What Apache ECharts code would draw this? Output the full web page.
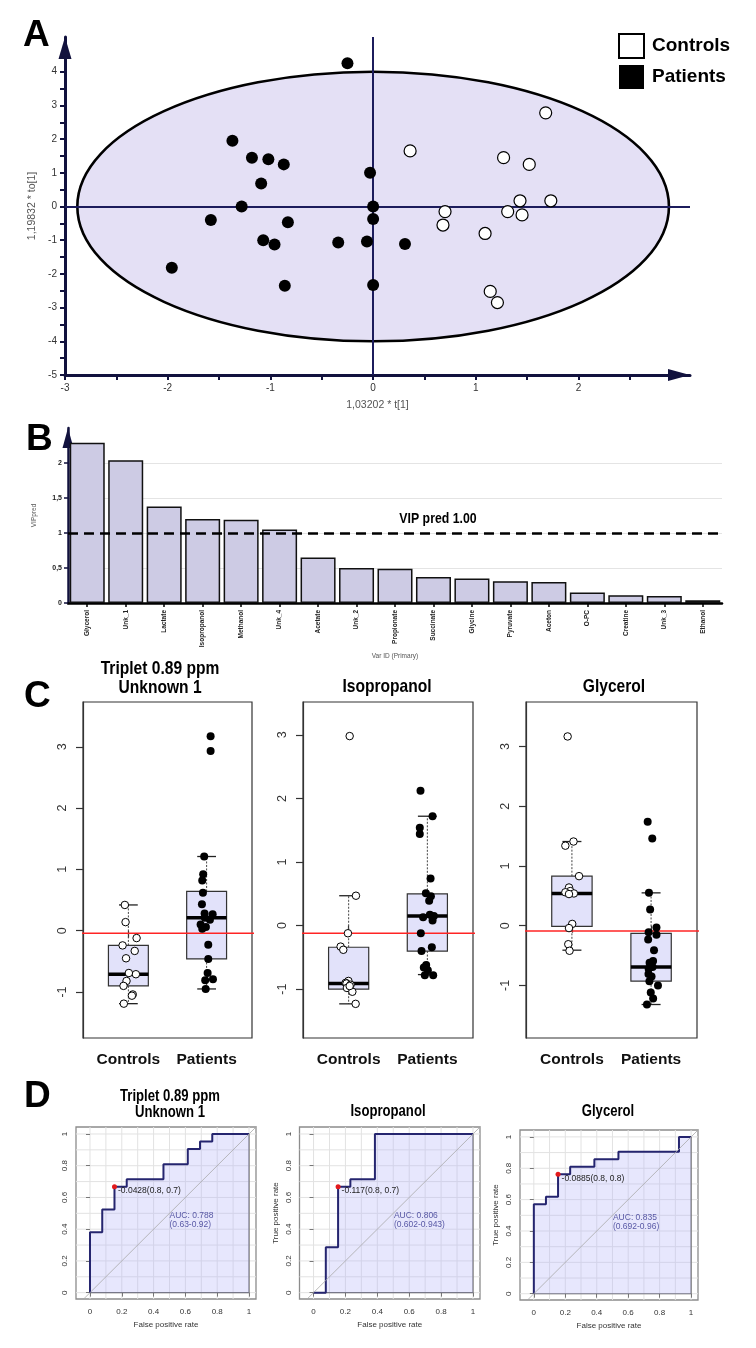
<!DOCTYPE html>
<html><head><meta charset="utf-8">
<script src="https://cdn.jsdelivr.net/npm/echarts@6.0.0/dist/echarts.min.js"></script>
<style>html,body{margin:0;padding:0;background:#fff;}#chart{width:756px;height:1348px;}</style>
</head><body><div id="chart"></div>
<script>
const NARROW = "'Liberation Sans Narrow','Arial Narrow','Liberation Sans',Arial,sans-serif";
const SANS = "'Liberation Sans',Arial,Helvetica,sans-serif";

// ---------- Panel A : OPLS-DA score plot ----------
const controlsT  = [1.68, 0.36, 1.27, 1.52, 1.43, 1.73, 0.70, 1.31, 1.45, 0.68, 1.09, 1.14, 1.21];
const controlsTo = [2.78, 1.65, 1.45, 1.25, 0.17, 0.17, -0.15, -0.15, -0.25, -0.55, -0.80, -2.52, -2.85];
const patientsT  = [-0.25, -1.37, -1.18, -1.02, -0.87, -1.09, -0.03, -1.28, 0.00, -1.58, -0.83, 0.00, -1.07, -0.96, -0.34, -0.06, 0.31, -1.96, -0.86, 0.00];
const patientsTo = [4.25, 1.95, 1.45, 1.40, 1.25, 0.68, 1.00, 0.00, 0.00, -0.40, -0.47, -0.37, -1.00, -1.13, -1.07, -1.04, -1.11, -1.82, -2.35, -2.33];
const ellipseCenter = [0, 0];
const ellipseRadii = [2.88, 4.0];
const scoreTicksX = [-3, -2.5, -2, -1.5, -1, -0.5, 0, 0.5, 1, 1.5, 2, 2.5];
const scoreLabelsX = [-3, -2, -1, 0, 1, 2];
const scoreTicksY = [-5, -4.5, -4, -3.5, -3, -2.5, -2, -1.5, -1, -0.5, 0, 0.5, 1, 1.5, 2, 2.5, 3, 3.5, 4, 4.5];
const scoreLabelsY = [-5, -4, -3, -2, -1, 0, 1, 2, 3, 4];

// ---------- Panel B : VIP pred ----------
const vipVars = ['Glycerol','Unk_1','Lactate','Isopropanol','Methanol','Unk_4','Acetate','Unk_2','Propionate','Succinate','Glycine','Pyruvate','Aceton','O-PC','Creatine','Unk_3','Ethanol'];
const vipValues = [2.29, 2.04, 1.38, 1.20, 1.19, 1.05, 0.65, 0.50, 0.49, 0.37, 0.35, 0.31, 0.30, 0.15, 0.11, 0.10, 0.04];
const vipThreshold = 1.0;
const vipLabels = [0, 0.5, 1, 1.5, 2];

// ---------- Panel C : box plots ----------
const groups = ['Controls', 'Patients'];
const boxTicks = [-1, 0, 1, 2, 3];
// [min, Q1, median, Q3, max] per group
const c1Stats = [[-1.19, -0.90, -0.71, -0.24, 0.42], [-0.95, -0.46, 0.21, 0.64, 1.21]];
const c2Stats = [[-1.23, -1.00, -0.91, -0.34, 0.47], [-0.77, -0.40, 0.15, 0.50, 1.72]];
const c3Stats = [[-0.41, -0.01, 0.54, 0.83, 1.41], [-1.32, -0.93, -0.69, -0.13, 0.55]];
const c1CtrlVals = [0.42, 0.14, -0.12, -0.24, -0.33, -0.45, -0.71, -0.69, -0.82, -0.90, -1.04, -1.06, -1.19];
const c1CtrlJit  = [-0.045, -0.036, 0.105, -0.074, 0.081, -0.03, 0.096, 0.006, -0.024, -0.062, 0.056, 0.045, -0.058];
const c1PatVals  = [3.17, 2.93, 1.21, 0.92, 0.82, 0.62, 0.43, 0.28, 0.27, 0.21, 0.10, 0.06, 0.03, -0.23, -0.46, -0.69, -0.79, -0.81, -0.95, 0.18];
const c1PatJit   = [0.051, 0.051, -0.031, -0.044, -0.056, -0.047, -0.06, -0.026, 0.077, -0.022, -0.077, -0.009, -0.056, 0.021, 0.021, 0.013, 0.081, -0.018, -0.012, 0.042];
const c2CtrlVals = [2.98, 0.47, -0.12, -0.33, -0.38, -0.87, -0.90, -0.91, -0.93, -0.98, -1.04, -1.23, -0.95];
const c2CtrlJit  = [0.013, 0.093, -0.009, -0.102, -0.068, -0.003, -0.038, -0.027, 0.025, -0.022, 0.047, 0.089, 0.013];
const c2PatVals  = [2.12, 1.72, 1.54, 1.44, 0.74, 0.51, 0.46, 0.39, 0.17, 0.15, 0.13, 0.08, -0.12, -0.34, -0.40, -0.62, -0.66, -0.70, -0.78, -0.78];
const c2PatJit   = [-0.087, 0.066, -0.096, -0.096, 0.041, -0.019, 0.045, 0.023, 0.032, 0.083, -0.054, 0.066, -0.083, 0.057, -0.074, -0.015, -0.045, 0.006, -0.032, 0.074];
const c3CtrlVals = [3.17, 1.41, 1.34, 0.83, 0.64, 0.58, 0.56, 0.54, 0.53, 0.03, -0.04, -0.31, -0.42];
const c3CtrlJit  = [-0.054, 0.02, -0.083, 0.09, -0.037, -0.021, -0.083, 0.025, -0.037, 0.004, -0.037, -0.046, -0.03];
const c3PatVals  = [1.74, 1.46, 0.55, 0.27, -0.03, -0.11, -0.15, -0.23, -0.41, -0.59, -0.62, -0.69, -0.72, -0.81, -0.85, -0.93, -1.00, -1.12, -1.22, -1.32];
const c3PatJit   = [-0.043, 0.015, -0.027, -0.012, 0.068, -0.031, 0.068, -0.037, 0.037, 0.025, -0.019, 0.019, -0.031, -0.033, 0.006, -0.021, 0.087, -0.004, 0.026, -0.052];
const cutoffs = [-0.04, -0.12, -0.09];
const cutSpans = [[0.06, 2.72], [0.03, 2.68], [0.06, 2.94]];

// ---------- Panel D : ROC curves ----------
const rocTicks = [0, 0.2, 0.4, 0.6, 0.8, 1];
const rocGrid = [0, 0.1, 0.2, 0.3, 0.4, 0.5, 0.6, 0.7, 0.8, 0.9, 1];
const roc1Fpr = [0, 0, 0.077, 0.077, 0.154, 0.154, 0.231, 0.231, 0.462, 0.462, 0.615, 0.615, 0.692, 0.692, 0.769, 0.769, 1];
const roc1Tpr = [0, 0.381, 0.381, 0.524, 0.524, 0.667, 0.667, 0.714, 0.714, 0.810, 0.810, 0.905, 0.905, 0.952, 0.952, 1, 1];
const roc2Fpr = [0, 0.077, 0.077, 0.154, 0.154, 0.231, 0.231, 0.385, 0.385, 1];
const roc2Tpr = [0, 0, 0.286, 0.286, 0.667, 0.667, 0.714, 0.714, 1, 1];
const roc3Fpr = [0, 0, 0.077, 0.077, 0.154, 0.154, 0.231, 0.231, 0.385, 0.385, 0.538, 0.538, 0.923, 0.923, 1];
const roc3Tpr = [0, 0.571, 0.571, 0.619, 0.619, 0.762, 0.762, 0.810, 0.810, 0.857, 0.857, 0.905, 0.905, 1, 1];
const bestPts = [[0.154, 0.667], [0.154, 0.667], [0.154, 0.762]];
const bestLabels = ['-0.0428(0.8, 0.7)', '-0.117(0.8, 0.7)', '-0.0885(0.8, 0.8)'];
const aucPos = [[0.50, 0.458], [0.504, 0.457], [0.503, 0.455]];
const aucLabels = ['AUC: 0.788\n(0.63-0.92)', 'AUC: 0.806\n(0.602-0.943)', 'AUC: 0.835\n(0.692-0.96)'];

const zip = (a, b) => a.map((v, i) => [v, b[i]]);

const grids = [], xAxes = [], yAxes = [], series = [], graphics = [];

// ===== Panel A =====
grids.push({left: 65, top: 37, width: 625, height: 338});
xAxes.push({gridIndex: 0, type: 'value', min: -3, max: 3.085,
  axisLine: {show: true, onZero: false, lineStyle: {color: '#12123e', width: 3}, symbol: ['none', 'triangle'], symbolSize: [12, 22], symbolOffset: [0, -11]},
  axisTick: {show: true, customValues: scoreTicksX, length: 5, lineStyle: {color: '#12123e', width: 2}},
  axisLabel: {customValues: scoreLabelsX, fontSize: 10, color: '#333', margin: 8, fontFamily: NARROW},
  splitLine: {show: false},
  name: '1,03202 * t[1]', nameLocation: 'middle', nameGap: 25, nameTextStyle: {fontSize: 10.5, color: '#555', fontFamily: NARROW}});
yAxes.push({gridIndex: 0, type: 'value', min: -5, max: 5.03,
  axisLine: {show: true, onZero: false, lineStyle: {color: '#12123e', width: 3}, symbol: ['none', 'triangle'], symbolSize: [13, 22], symbolOffset: [0, -11]},
  axisTick: {show: true, customValues: scoreTicksY, length: 5, lineStyle: {color: '#12123e', width: 2}},
  axisLabel: {customValues: scoreLabelsY, fontSize: 10, color: '#333', margin: 8, fontFamily: NARROW},
  splitLine: {show: false},
  name: '1,19832 * to[1]', nameLocation: 'middle', nameGap: 22, nameTextStyle: {fontSize: 10.5, color: '#555', fontFamily: NARROW}});
series.push({type: 'custom', xAxisIndex: 0, yAxisIndex: 0, z: 1, silent: true,
  data: [[ellipseCenter[0], ellipseCenter[1], ellipseRadii[0], ellipseRadii[1]]],
  renderItem: (params, api) => {
    const c = api.coord([api.value(0), api.value(1)]);
    const s = api.size([api.value(2), api.value(3)]);
    return {type: 'ellipse', shape: {cx: c[0], cy: c[1], rx: s[0], ry: s[1]}, style: {fill: '#e4e0f5', stroke: '#000', lineWidth: 2.6}};
  },
  markLine: {silent: true, symbol: 'none', label: {show: false}, lineStyle: {color: '#1c1c5c', width: 2, type: 'solid'},
    data: [{xAxis: 0}, {yAxis: 0}]}
});
series.push({type: 'scatter', name: 'Controls', xAxisIndex: 0, yAxisIndex: 0, z: 10, symbolSize: 12,
  itemStyle: {color: '#fff', borderColor: '#000', borderWidth: 1.2, opacity: 1}, data: zip(controlsT, controlsTo)});
series.push({type: 'scatter', name: 'Patients', xAxisIndex: 0, yAxisIndex: 0, z: 10, symbolSize: 12,
  itemStyle: {color: '#000', opacity: 1}, data: zip(patientsT, patientsTo)});

// ===== Panel B =====
grids.push({left: 68, top: 428, width: 654, height: 175});
xAxes.push({gridIndex: 1, type: 'category', data: vipVars,
  axisLine: {show: true, lineStyle: {color: '#000', width: 2.5}},
  axisTick: {show: true, alignWithLabel: true, length: 4, lineStyle: {color: '#000', width: 1.5}},
  axisLabel: {rotate: 90, interval: 0, fontSize: 6.5, fontWeight: 'bold', color: '#222', margin: 7, fontFamily: NARROW},
  name: 'Var ID (Primary)', nameLocation: 'middle', nameGap: 50, nameTextStyle: {fontSize: 6.5, color: '#555', fontFamily: NARROW}});
yAxes.push({gridIndex: 1, type: 'value', min: 0, max: 2.5, interval: 0.5,
  axisLine: {show: true, lineStyle: {color: '#12123e', width: 2.5}, symbol: ['none', 'triangle'], symbolSize: [11, 20], symbolOffset: [0, -10]},
  axisTick: {show: true, customValues: vipLabels, length: 4, lineStyle: {color: '#12123e', width: 1.5}},
  axisLabel: {customValues: vipLabels, fontSize: 7, fontWeight: 'bold', color: '#222', margin: 6, fontFamily: NARROW,
    formatter: v => String(v).replace('.', ',')},
  splitLine: {show: true, showMinLine: false, showMaxLine: true, lineStyle: {color: '#e4e4e4', width: 1}},
  name: 'VIPpred', nameLocation: 'middle', nameGap: 30, nameTextStyle: {fontSize: 6.5, color: '#555', fontFamily: NARROW}});
series.push({type: 'bar', xAxisIndex: 1, yAxisIndex: 1, data: vipValues, barCategoryGap: '9%',
  itemStyle: {color: '#cdcbe4', borderColor: '#111', borderWidth: 1.5},
  markLine: {silent: true, symbol: 'none', label: {show: false},
    lineStyle: {color: '#000', width: 2.6, type: [10, 6]}, data: [{yAxis: vipThreshold}]}});

// ===== Panel C =====
const cPanels = [
  {grid: {left: 83, top: 702, width: 169, height: 336}, yMin: -1.75, yMax: 3.73, stats: c1Stats, cv: c1CtrlVals, cj: c1CtrlJit, pv: c1PatVals, pj: c1PatJit},
  {grid: {left: 303, top: 702, width: 170, height: 336}, yMin: -1.767, yMax: 3.516, stats: c2Stats, cv: c2CtrlVals, cj: c2CtrlJit, pv: c2PatVals, pj: c2PatJit},
  {grid: {left: 526, top: 702, width: 171, height: 336}, yMin: -1.881, yMax: 3.747, stats: c3Stats, cv: c3CtrlVals, cj: c3CtrlJit, pv: c3PatVals, pj: c3PatJit}
];
const BOX_HALF = 0.255, CAP_HALF = 0.12;
cPanels.forEach((p, k) => {
  const gi = grids.length;
  grids.push(Object.assign({show: true, borderColor: '#333', borderWidth: 1.2, backgroundColor: 'transparent'}, p.grid));
  xAxes.push({gridIndex: gi, type: 'value', min: 0.42, max: 2.58,
    axisLine: {show: false},
    axisTick: {show: true, customValues: [1, 2], length: 7, lineStyle: {color: '#333', width: 1.2}},
    axisLabel: {customValues: [1, 2], formatter: v => groups[Math.round(v) - 1], fontSize: 15.5, fontWeight: 'bold', color: '#111', fontFamily: NARROW, margin: 14},
    splitLine: {show: false}});
  yAxes.push({gridIndex: gi, type: 'value', min: p.yMin, max: p.yMax,
    axisLine: {show: true, onZero: false, lineStyle: {color: '#333', width: 1.2}},
    axisTick: {show: true, customValues: boxTicks, length: 7, lineStyle: {color: '#333', width: 1.2}},
    axisLabel: {customValues: boxTicks, rotate: 90, fontSize: 12.5, color: '#333', fontFamily: SANS, margin: 14},
    splitLine: {show: false}});
  series.push({type: 'custom', xAxisIndex: gi, yAxisIndex: gi, z: 3, silent: true,
    data: p.stats.map((s, i) => [i + 1].concat(s)),
    encode: {x: 0, y: [1, 2, 3, 4, 5]},
    renderItem: (params, api) => {
      const x = api.value(0);
      const mn = api.value(1), q1 = api.value(2), md = api.value(3), q3 = api.value(4), mx = api.value(5);
      const c = v => api.coord(v);
      const tl = c([x - BOX_HALF, q3]), br = c([x + BOX_HALF, q1]);
      const cx = c([x, 0])[0];
      const capL = c([x - CAP_HALF, 0])[0], capR = c([x + CAP_HALF, 0])[0];
      const yMx = c([x, mx])[1], yMn = c([x, mn])[1], yMd = c([x, md])[1];
      const wStyle = {stroke: '#444', lineWidth: 1, lineDash: [2, 1.5]};
      const capStyle = {stroke: '#222', lineWidth: 1.3};
      return {type: 'group', children: [
        {type: 'line', shape: {x1: cx, y1: tl[1], x2: cx, y2: yMx}, style: wStyle},
        {type: 'line', shape: {x1: cx, y1: br[1], x2: cx, y2: yMn}, style: wStyle},
        {type: 'line', shape: {x1: capL, y1: yMx, x2: capR, y2: yMx}, style: capStyle},
        {type: 'line', shape: {x1: capL, y1: yMn, x2: capR, y2: yMn}, style: capStyle},
        {type: 'rect', shape: {x: tl[0], y: tl[1], width: br[0] - tl[0], height: br[1] - tl[1]}, style: {fill: '#e2e2fa', stroke: '#333', lineWidth: 1.2}},
        {type: 'line', shape: {x1: tl[0], y1: yMd, x2: br[0], y2: yMd}, style: {stroke: '#000', lineWidth: 3.5}}
      ]};
    }});
  series.push({type: 'line', xAxisIndex: gi, yAxisIndex: gi, z: 6, clip: false, symbol: 'none', silent: true,
    lineStyle: {color: '#ff2424', width: 1.5},
    data: [[cutSpans[k][0], cutoffs[k]], [cutSpans[k][1], cutoffs[k]]]});
  series.push({type: 'scatter', name: 'C' + (k + 1) + ' Controls', xAxisIndex: gi, yAxisIndex: gi, z: 10, symbolSize: 7.5,
    itemStyle: {color: '#fff', borderColor: '#000', borderWidth: 1, opacity: 1},
    data: p.cv.map((v, i) => [1 + p.cj[i], v])});
  series.push({type: 'scatter', name: 'C' + (k + 1) + ' Patients', xAxisIndex: gi, yAxisIndex: gi, z: 10, symbolSize: 8,
    itemStyle: {color: '#000', opacity: 1},
    data: p.pv.map((v, i) => [2 + p.pj[i], v])});
});

// ===== Panel D =====
const dPanels = [
  {grid: {left: 76, top: 1127, width: 180, height: 172}, fpr: roc1Fpr, tpr: roc1Tpr, yName: ''},
  {grid: {left: 299.5, top: 1127, width: 180.5, height: 172}, fpr: roc2Fpr, tpr: roc2Tpr, yName: 'True positive rate'},
  {grid: {left: 520, top: 1130, width: 178, height: 170}, fpr: roc3Fpr, tpr: roc3Tpr, yName: 'True positive rate'}
];
dPanels.forEach((p, k) => {
  const gi = grids.length;
  grids.push(Object.assign({show: true, borderColor: '#8c8c8c', borderWidth: 1.3, backgroundColor: 'transparent'}, p.grid));
  xAxes.push({gridIndex: gi, type: 'value', min: -0.088, max: 1.044,
    axisLine: {show: false},
    axisTick: {show: true, customValues: rocTicks, length: 4, lineStyle: {color: '#777'}},
    axisLabel: {customValues: rocTicks, fontSize: 8, color: '#333', fontFamily: SANS, margin: 9},
    splitLine: {show: false},
    name: 'False positive rate', nameLocation: 'middle', nameGap: 22, nameTextStyle: {fontSize: 8, color: '#333', fontFamily: SANS}});
  yAxes.push({gridIndex: gi, type: 'value', min: -0.04, max: 1.044,
    axisLine: {show: false},
    axisTick: {show: true, customValues: rocTicks, length: 4, lineStyle: {color: '#777'}},
    axisLabel: {customValues: rocTicks, rotate: 90, fontSize: 8, color: '#333', fontFamily: SANS, margin: 7},
    splitLine: {show: false},
    name: p.yName, nameLocation: 'middle', nameGap: 20, nameTextStyle: {fontSize: 8, color: '#333', fontFamily: SANS}});
  series.push({type: 'custom', xAxisIndex: gi, yAxisIndex: gi, z: 0, silent: true,
    data: rocGrid.map(v => [v, v]),
    renderItem: (params, api) => {
      const cs = params.coordSys;
      const v = api.value(0);
      const px = api.coord([v, 0])[0], py = api.coord([0, v])[1];
      const st = {stroke: '#e2e2e2', lineWidth: 1};
      return {type: 'group', children: [
        {type: 'line', shape: {x1: px, y1: cs.y, x2: px, y2: cs.y + cs.height}, style: st},
        {type: 'line', shape: {x1: cs.x, y1: py, x2: cs.x + cs.width, y2: py}, style: st}
      ]};
    }});
  series.push({type: 'line', xAxisIndex: gi, yAxisIndex: gi, z: 3, symbol: 'none', silent: true,
    lineStyle: {color: '#666', width: 1.2}, data: [[0, 0], [1, 0], [1, 1]]});
  series.push({type: 'line', xAxisIndex: gi, yAxisIndex: gi, z: 4, symbol: 'none', silent: true,
    lineStyle: {color: '#25256f', width: 2},
    areaStyle: {color: 'rgba(178,178,250,0.45)', origin: 0},
    data: zip(p.fpr, p.tpr)});
  series.push({type: 'line', xAxisIndex: gi, yAxisIndex: gi, z: 5, symbol: 'none', silent: true,
    lineStyle: {color: '#a8a8a8', width: 0.8}, data: [[-0.2, -0.2], [1.2, 1.2]]});
  series.push({type: 'scatter', xAxisIndex: gi, yAxisIndex: gi, z: 8, symbolSize: 5, silent: true,
    itemStyle: {color: '#e31a1c', opacity: 1},
    label: {show: true, position: 'right', distance: 1, offset: [0, 4], formatter: bestLabels[k], fontSize: 8.5, color: '#222', fontFamily: SANS},
    data: [bestPts[k]]});
  series.push({type: 'scatter', xAxisIndex: gi, yAxisIndex: gi, z: 8, symbolSize: 0, silent: true,
    label: {show: true, position: [0, 0], align: 'left', verticalAlign: 'middle', formatter: aucLabels[k], fontSize: 8.5, lineHeight: 9, color: '#33338f', fontFamily: SANS},
    data: [aucPos[k]]});
});

// ===== Texts =====
const letter = (t, x, y) => ({type: 'text', x: x, y: y, style: {text: t, fontSize: 37, fontWeight: 'bold', fontFamily: SANS, fill: '#000', align: 'left', verticalAlign: 'middle'}});
const ttl = (t, x, y, fs) => ({type: 'text', x: x, y: y, scaleX: 0.82, style: {text: t, fontSize: fs, fontWeight: 'bold', fontFamily: NARROW, fill: '#000', align: 'center', verticalAlign: 'middle'}});
graphics.push(letter('A', 23, 36), letter('B', 26, 440), letter('C', 24, 697), letter('D', 24, 1097));
graphics.push(ttl('VIP pred 1.00', 438, 519, 15));
graphics.push(ttl('Triplet 0.89 ppm', 160, 669, 19), ttl('Unknown 1', 160, 688, 19), ttl('Isopropanol', 387, 687, 19), ttl('Glycerol', 614, 687, 19));
graphics.push(ttl('Triplet 0.89 ppm', 170, 1097, 16), ttl('Unknown 1', 170, 1113, 16), ttl('Isopropanol', 388, 1112, 16), ttl('Glycerol', 608, 1112, 16));

const chart = echarts.init(document.getElementById('chart'), null, {renderer: 'canvas'});
chart.setOption({
  animation: false,
  backgroundColor: '#fff',
  legend: {data: [{name: 'Controls', itemStyle: {color: '#fff', borderColor: '#000', borderWidth: 2, opacity: 1}}, {name: 'Patients', itemStyle: {color: '#000', borderColor: '#000', opacity: 1}}],
    orient: 'vertical', left: 613, top: 28,
    itemWidth: 25, itemHeight: 24, itemGap: 6, icon: 'rect', selectedMode: false,
    textStyle: {fontFamily: NARROW, fontWeight: 'bold', fontSize: 19, color: '#000', padding: [0, 0, 0, 3]}},
  grid: grids, xAxis: xAxes, yAxis: yAxes, series: series, graphic: graphics
});
</script></body></html>
